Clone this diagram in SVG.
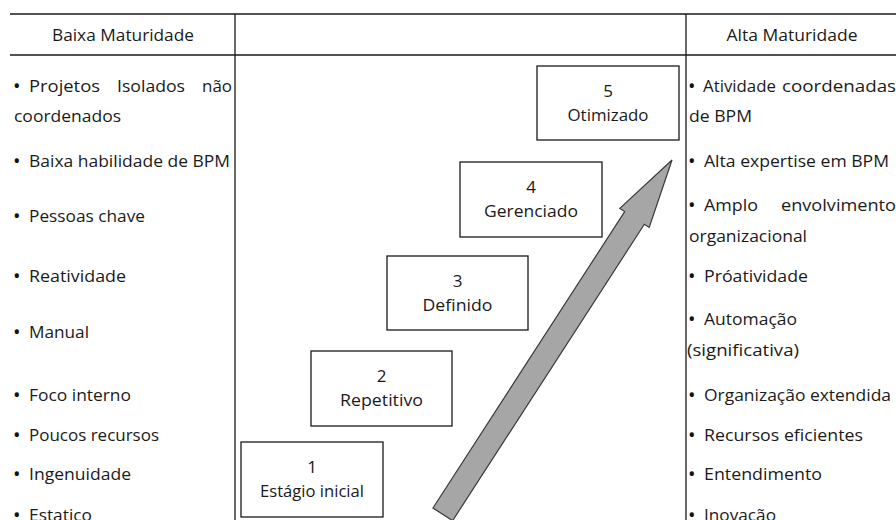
<svg xmlns="http://www.w3.org/2000/svg" width="896" height="520" viewBox="0 0 896 520">
<style>
text{font-family:"Open Sans","Noto Sans","DejaVu Sans",sans-serif;font-size:17px;fill:#1a1a1a}
.c{text-anchor:middle}
.b{font-size:20px;fill:#111}
.grid{stroke:#1a1a1a;stroke-width:1.3;fill:none}
.box{fill:#fff;stroke:#1a1a1a;stroke-width:1.3}
.arrow{fill:#a6a6a6;stroke:#3a3a3a;stroke-width:1.2;stroke-linejoin:miter}
</style>
<rect width="896" height="520" fill="#fff"/>
<g id="table">
<line class="grid" x1="10" y1="14" x2="896" y2="14"/>
<line class="grid" x1="10" y1="55" x2="896" y2="55"/>
<line class="grid" x1="235" y1="14" x2="235" y2="520"/>
<line class="grid" x1="686" y1="14" x2="686" y2="520"/>
<text class="c" x="123" y="41" textLength="142" lengthAdjust="spacingAndGlyphs">Baixa Maturidade</text>
<text class="c" x="792" y="41" textLength="131" lengthAdjust="spacingAndGlyphs">Alta Maturidade</text>
</g>
<g id="baixa">
<text class="b" x="13" y="93">•</text><text x="29" y="92" textLength="71" lengthAdjust="spacingAndGlyphs">Projetos</text>
<text x="117" y="92" textLength="68" lengthAdjust="spacingAndGlyphs">Isolados</text>
<text x="202" y="92" textLength="30" lengthAdjust="spacingAndGlyphs">não</text>
<text x="14" y="122" textLength="107" lengthAdjust="spacingAndGlyphs">coordenados</text>
<text class="b" x="13" y="168">•</text><text x="29" y="167" textLength="201" lengthAdjust="spacingAndGlyphs">Baixa habilidade de BPM</text>
<text class="b" x="13" y="223">•</text><text x="29" y="222" textLength="116" lengthAdjust="spacingAndGlyphs">Pessoas chave</text>
<text class="b" x="13" y="283">•</text><text x="29" y="282" textLength="97" lengthAdjust="spacingAndGlyphs">Reatividade</text>
<text class="b" x="13" y="339">•</text><text x="29" y="338" textLength="60" lengthAdjust="spacingAndGlyphs">Manual</text>
<text class="b" x="13" y="402">•</text><text x="29" y="401" textLength="102" lengthAdjust="spacingAndGlyphs">Foco interno</text>
<text class="b" x="13" y="442">•</text><text x="29" y="441" textLength="130" lengthAdjust="spacingAndGlyphs">Poucos recursos</text>
<text class="b" x="13" y="481">•</text><text x="29" y="480" textLength="102" lengthAdjust="spacingAndGlyphs">Ingenuidade</text>
<text class="b" x="13" y="522">•</text><text x="29" y="521" textLength="63" lengthAdjust="spacingAndGlyphs">Estatico</text>
</g>
<g id="alta">
<text class="b" x="688" y="93">•</text><text x="703" y="92" textLength="73" lengthAdjust="spacingAndGlyphs">Atividade</text>
<text x="782" y="92" textLength="114" lengthAdjust="spacingAndGlyphs">coordenadas</text>
<text x="689" y="122" textLength="63" lengthAdjust="spacingAndGlyphs">de BPM</text>
<text class="b" x="688" y="168">•</text><text x="704" y="167" textLength="185" lengthAdjust="spacingAndGlyphs">Alta expertise em BPM</text>
<text class="b" x="688" y="212">•</text><text x="704" y="211" textLength="54" lengthAdjust="spacingAndGlyphs">Amplo</text>
<text x="781" y="211" textLength="115" lengthAdjust="spacingAndGlyphs">envolvimento</text>
<text x="689" y="242" textLength="118" lengthAdjust="spacingAndGlyphs">organizacional</text>
<text class="b" x="688" y="283">•</text><text x="704" y="282" textLength="104" lengthAdjust="spacingAndGlyphs">Próatividade</text>
<text class="b" x="688" y="326">•</text><text x="704" y="325" textLength="93" lengthAdjust="spacingAndGlyphs">Automação</text>
<text x="687" y="356" textLength="112" lengthAdjust="spacingAndGlyphs">(significativa)</text>
<text class="b" x="688" y="402">•</text><text x="704" y="401" textLength="187" lengthAdjust="spacingAndGlyphs">Organização extendida</text>
<text class="b" x="688" y="442">•</text><text x="704" y="441" textLength="159" lengthAdjust="spacingAndGlyphs">Recursos eficientes</text>
<text class="b" x="688" y="481">•</text><text x="704" y="480" textLength="118" lengthAdjust="spacingAndGlyphs">Entendimento</text>
<text class="b" x="688" y="522">•</text><text x="704" y="521" textLength="72" lengthAdjust="spacingAndGlyphs">Inovação</text>
</g>
<g id="connectors">
<path class="arrow" transform="translate(672,160) rotate(-57.1)" d="M0,0 L-69,-17.5 L-69,-11.7 L-422,-11.7 L-422,11.7 L-69,11.7 L-69,17.5 Z"/>
</g>
<g id="stage1">
<rect class="box" x="241" y="442" width="142" height="75"/>
<text class="c" x="312" y="473">1</text>
<text class="c" x="312" y="497" textLength="104" lengthAdjust="spacingAndGlyphs">Estágio inicial</text>
</g>
<g id="stage2">
<rect class="box" x="311" y="351" width="141" height="75"/>
<text class="c" x="381.5" y="382">2</text>
<text class="c" x="381.5" y="406" textLength="83" lengthAdjust="spacingAndGlyphs">Repetitivo</text>
</g>
<g id="stage3">
<rect class="box" x="387" y="256" width="141" height="74"/>
<text class="c" x="457.5" y="287">3</text>
<text class="c" x="457.5" y="311" textLength="70" lengthAdjust="spacingAndGlyphs">Definido</text>
</g>
<g id="stage4">
<rect class="box" x="460" y="162" width="142" height="75"/>
<text class="c" x="531" y="193">4</text>
<text class="c" x="531" y="217" textLength="94" lengthAdjust="spacingAndGlyphs">Gerenciado</text>
</g>
<g id="stage5">
<rect class="box" x="537" y="66" width="142" height="74"/>
<text class="c" x="608" y="97">5</text>
<text class="c" x="608" y="121" textLength="81" lengthAdjust="spacingAndGlyphs">Otimizado</text>
</g>
</svg>
